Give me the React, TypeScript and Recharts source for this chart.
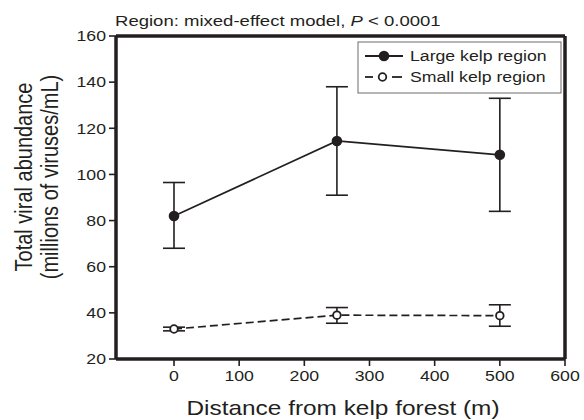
import React from "react";
import { ComposedChart, Line, XAxis, YAxis, ErrorBar, ReferenceLine, Customized } from "recharts";

const distances = [0, 250, 500];
const largeMean = [82, 114.5, 108.5];
const largeLow = [68, 91, 84];
const largeHigh = [96.5, 138, 133];
const smallMean = [33, 39, 38.8];
const smallLow = [32.2, 35.5, 34.2];
const smallHigh = [33.8, 42.3, 43.5];
const xTicks = [0, 100, 200, 300, 400, 500, 600];
const yTicks = [20, 40, 60, 80, 100, 120, 140, 160];

const data = distances.map((d, i) => ({
  x: d,
  large: largeMean[i],
  largeErr: [largeMean[i] - largeLow[i], largeHigh[i] - largeMean[i]],
  small: smallMean[i],
  smallErr: [smallMean[i] - smallLow[i], smallHigh[i] - smallMean[i]],
}));

const FONT = "'Liberation Sans', Arial, sans-serif";
const INK = "#231f20";
const SX = 1.22;

const SmallDot = (props: any) => {
  const { cx, cy } = props;
  if (cx == null || cy == null) return null;
  return <circle cx={cx} cy={cy} r={3.8} fill="#fff" stroke={INK} strokeWidth={1.8} />;
};
const LargeDot = (props: any) => {
  const { cx, cy } = props;
  if (cx == null || cy == null) return null;
  return <circle cx={cx} cy={cy} r={5.3} fill={INK} />;
};

const YTick = (props: any) => {
  const { x, y, payload } = props;
  return (
    <text
      transform={`translate(${x},${y}) scale(${SX},1)`}
      textAnchor="end"
      dy="0.36em"
      fontSize={14.5}
      fontFamily={FONT}
      fill={INK}
    >
      {payload.value}
    </text>
  );
};
const XTick = (props: any) => {
  const { x, y, payload } = props;
  return (
    <text
      transform={`translate(${x},${y}) scale(${SX},1)`}
      textAnchor="middle"
      dy="0.71em"
      fontSize={14.5}
      fontFamily={FONT}
      fill={INK}
    >
      {payload.value}
    </text>
  );
};

const Overlay = () => (
  <g fontFamily={FONT} fill={INK}>
    <text transform={`translate(115,26) scale(${SX},1)`} fontSize={15.2}>
      Region: mixed-effect model, <tspan fontStyle="italic">P</tspan> {"< 0.0001"}
    </text>
    <text transform={`translate(32,177) scale(${SX},1) rotate(-90)`} textAnchor="middle" fontSize={20}>
      Total viral abundance
    </text>
    <text transform={`translate(58,177) scale(${SX},1) rotate(-90)`} textAnchor="middle" fontSize={20}>
      (millions of viruses/mL)
    </text>
    <text transform={`translate(343,415) scale(${SX},1)`} textAnchor="middle" fontSize={20}>
      Distance from kelp forest (m)
    </text>
    <rect x={358} y={42} width={203} height={51} fill="#fff" stroke="#6d6d6d" strokeWidth={1} />
    <line x1={365} y1={56} x2={403} y2={56} stroke={INK} strokeWidth={1.8} />
    <circle cx={384} cy={56} r={5.3} fill={INK} />
    <text transform={`translate(410,61) scale(${SX},1)`} fontSize={14.5}>Large kelp region</text>
    <line x1={365} y1={77} x2={373} y2={77} stroke={INK} strokeWidth={1.8} />
    <line x1={392} y1={77} x2={402} y2={77} stroke={INK} strokeWidth={1.8} />
    <circle cx={382.5} cy={77} r={3.8} fill="#fff" stroke={INK} strokeWidth={1.8} />
    <text transform={`translate(410,82) scale(${SX},1)`} fontSize={14.5}>Small kelp region</text>
  </g>
);

export default function App() {
  return (
    <div style={{ position: "absolute", left: 0, top: 0, width: 584, height: 420, background: "#fff" }}>
      <ComposedChart
        width={584}
        height={420}
        data={data}
        margin={{ top: 36, right: 19, bottom: 0, left: 0 }}
      >
        <XAxis
          dataKey="x"
          type="number"
          domain={[-89, 600]}
          ticks={xTicks}
          allowDataOverflow
          height={61}
          axisLine={{ stroke: INK, strokeWidth: 3.5 }}
          tickLine={{ stroke: INK, strokeWidth: 1.6 }}
          tickSize={7}
          tick={<XTick />}
          tickMargin={5}
        />
        <YAxis
          type="number"
          domain={[20, 160]}
          ticks={yTicks}
          width={116}
          axisLine={{ stroke: INK, strokeWidth: 3.5 }}
          tickLine={{ stroke: INK, strokeWidth: 1.6 }}
          tickSize={7}
          tick={<YTick />}
          tickMargin={3}
        />
        <ReferenceLine y={160} stroke={INK} strokeWidth={3.5} />
        <ReferenceLine x={600} stroke={INK} strokeWidth={3.5} />
        <Line
          dataKey="large"
          stroke={INK}
          strokeWidth={1.7}
          dot={<LargeDot />}
          isAnimationActive={false}
        >
          <ErrorBar dataKey="largeErr" direction="y" width={11} stroke={INK} strokeWidth={1.6} />
        </Line>
        <Line
          dataKey="small"
          stroke={INK}
          strokeWidth={1.7}
          strokeDasharray="8 4"
          dot={<SmallDot />}
          isAnimationActive={false}
        >
          <ErrorBar dataKey="smallErr" direction="y" width={11} stroke={INK} strokeWidth={1.6} />
        </Line>
        <Customized component={Overlay} />
      </ComposedChart>
    </div>
  );
}
